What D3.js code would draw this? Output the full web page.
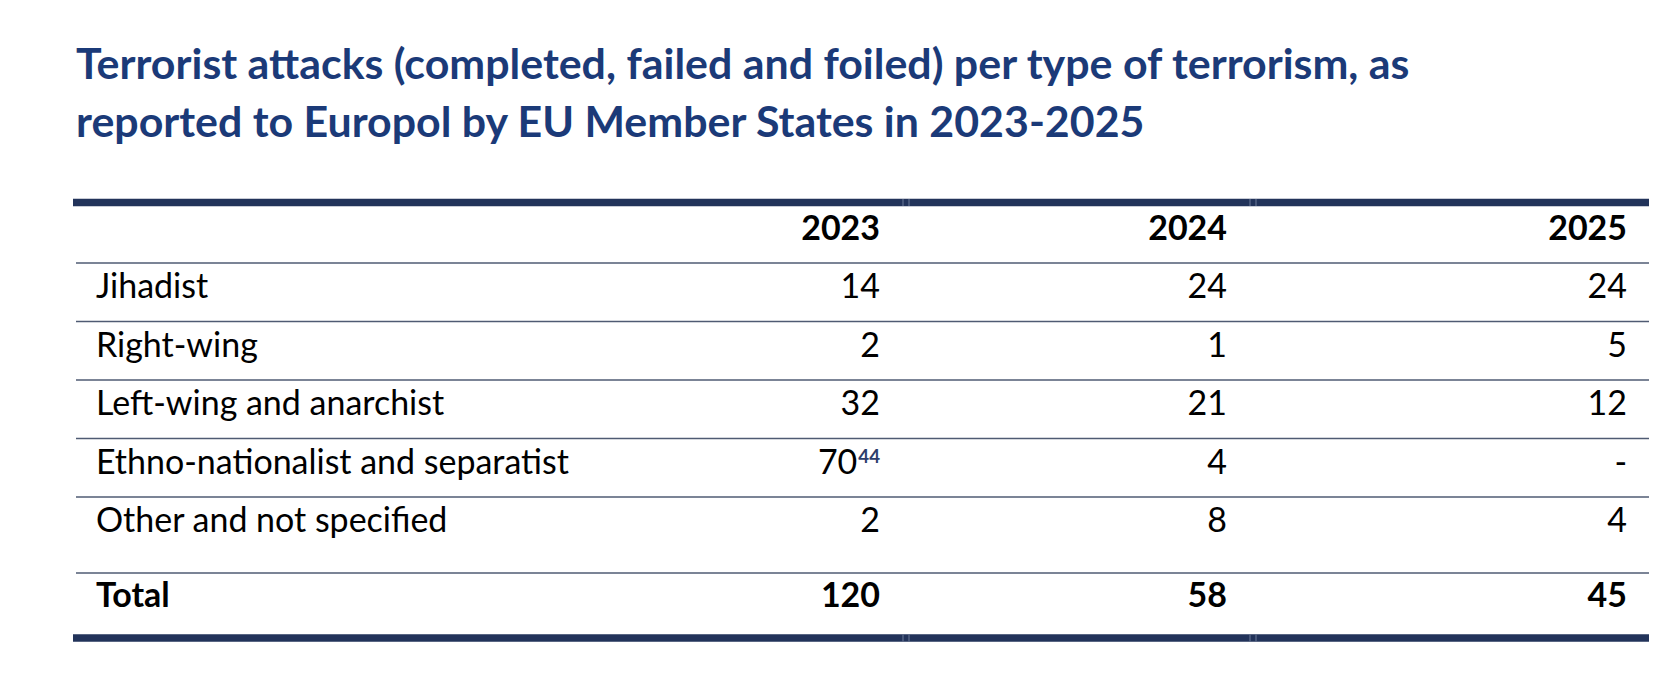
<!DOCTYPE html>
<html>
<head>
<meta charset="utf-8">
<script src="https://cdn.jsdelivr.net/npm/d3@7"></script>
<style>
  body { margin: 0; background: #fff; }
  text { font-family: Lato, "Noto Sans", sans-serif; }
</style>
</head>
<body>
<div id="terror-table"></div>
<script>
// table data
var titleLines = ["Terrorist attacks (completed, failed and foiled) per type of terrorism, as",
                  "reported to Europol by EU Member States in 2023-2025"];
var years = ["2023", "2024", "2025"];
var categories = ["Jihadist", "Right-wing", "Left-wing and anarchist", "Ethno-nationalist and separatist", "Other and not specified"];
var attacks2023 = ["14", "2", "32", "70", "2"];
var attacks2024 = ["24", "1", "21", "4", "8"];
var attacks2025 = ["24", "5", "12", "-", "4"];
var footnotes2023 = ["", "", "", "44", ""];
var totals = ["120", "58", "45"];

var width = 1674, height = 687;
var left = 73, right = 1649;
var navy = "#22335a", titleBlue = "#1b3a78", thin = "#4f5b73";

var svg = d3.select("#terror-table")
  .append("svg")
  .attr("width", width)
  .attr("height", height);

// helper: pick a font size so a string takes a given width
function fitSize(str, weight, target) {
  var t = svg.append("text").attr("font-size", 100).attr("font-weight", weight).text(str);
  var w = t.node().getComputedTextLength();
  t.remove();
  return 100 * target / w;
}

var titleSize = fitSize(titleLines[0], "bold", 1334);
var bodySize = fitSize(categories[3], "normal", 473);

// title
svg.selectAll(".title")
  .data(titleLines)
  .enter()
  .append("text")
  .attr("class", "title")
  .attr("x", 76)
  .attr("y", function(d, i) { return 79 + i * 57.5; })
  .attr("fill", titleBlue)
  .attr("font-weight", "bold")
  .attr("font-size", titleSize)
  .text(function(d) { return d; });

// scales
var rowY = d3.scaleBand().domain(categories).range([263, 555.5]);
var colX = d3.scaleOrdinal().domain(years).range([880, 1227, 1627]);
var colEdge = d3.scaleOrdinal().domain(years).range([906, 1253, 1649]);
var headerTop = 206, totalTop = 573, totalBottom = 634;

// thick rules top and bottom (with the faint cell joints)
[202.5, 638].forEach(function(y) {
  svg.append("line")
    .attr("x1", left).attr("x2", right)
    .attr("y1", y).attr("y2", y)
    .attr("stroke", navy)
    .attr("stroke-width", 7.5);
  svg.selectAll(null)
    .data(years.slice(0, 2))
    .enter()
    .append("line")
    .attr("x1", function(d) { return colEdge(d) - 3; })
    .attr("x2", function(d) { return colEdge(d) - 3; })
    .attr("y1", y - 3.5).attr("y2", y + 3.5)
    .attr("stroke", "#6b7a98")
    .attr("stroke-width", 1);
  svg.selectAll(null)
    .data(years.slice(0, 2))
    .enter()
    .append("line")
    .attr("x1", function(d) { return colEdge(d) + 3; })
    .attr("x2", function(d) { return colEdge(d) + 3; })
    .attr("y1", y - 3.5).attr("y2", y + 3.5)
    .attr("stroke", "#6b7a98")
    .attr("stroke-width", 1);
});

// thin row rules
svg.selectAll(".row-rule")
  .data(categories)
  .enter()
  .append("line")
  .attr("class", "row-rule")
  .attr("x1", 76).attr("x2", right)
  .attr("y1", function(d) { return rowY(d); })
  .attr("y2", function(d) { return rowY(d); })
  .attr("stroke", thin)
  .attr("stroke-width", 1.3);

svg.append("line")
  .attr("x1", 76).attr("x2", right)
  .attr("y1", totalTop).attr("y2", totalTop)
  .attr("stroke", thin)
  .attr("stroke-width", 1.3);

// header
svg.selectAll(".year")
  .data(years)
  .enter()
  .append("text")
  .attr("class", "year")
  .attr("x", function(d) { return colX(d); })
  .attr("y", 240)
  .attr("text-anchor", "end")
  .attr("font-weight", "bold")
  .attr("font-size", bodySize)
  .attr("fill", "#000")
  .text(function(d) { return d; });

// row labels
svg.selectAll(".cat")
  .data(categories)
  .enter()
  .append("text")
  .attr("class", "cat")
  .attr("x", 96)
  .attr("y", function(d) { return rowY(d) + 35; })
  .attr("font-size", bodySize)
  .attr("fill", "#000")
  .text(function(d) { return d; });

// values
var series = [attacks2023, attacks2024, attacks2025];
years.forEach(function(yr, j) {
  var cells = svg.selectAll(".val-" + yr)
    .data(categories)
    .enter()
    .append("text")
    .attr("class", "val-" + yr)
    .attr("x", colX(yr))
    .attr("y", function(d) { return rowY(d) + 35; })
    .attr("text-anchor", "end")
    .attr("font-size", bodySize)
    .attr("fill", "#000");
  cells.append("tspan")
    .text(function(d, i) { return series[j][i]; });
  if (yr == "2023") {
    cells.filter(function(d, i) { return footnotes2023[i] != ""; })
      .append("tspan")
      .attr("dy", -11)
      .attr("dx", 1)
      .attr("font-size", bodySize * 0.55)
      .attr("font-weight", "bold")
      .attr("fill", "#2c3d6b")
      .text(function(d) { return footnotes2023[categories.indexOf(d)]; });
  }
});

// total row
svg.append("text")
  .attr("x", 96)
  .attr("y", totalTop + 34)
  .attr("font-weight", "bold")
  .attr("font-size", bodySize)
  .text("Total");

svg.selectAll(".total")
  .data(years)
  .enter()
  .append("text")
  .attr("class", "total")
  .attr("x", function(d) { return colX(d); })
  .attr("y", totalTop + 34)
  .attr("text-anchor", "end")
  .attr("font-weight", "bold")
  .attr("font-size", bodySize)
  .text(function(d, i) { return totals[i]; });
</script>
</body>
</html>
